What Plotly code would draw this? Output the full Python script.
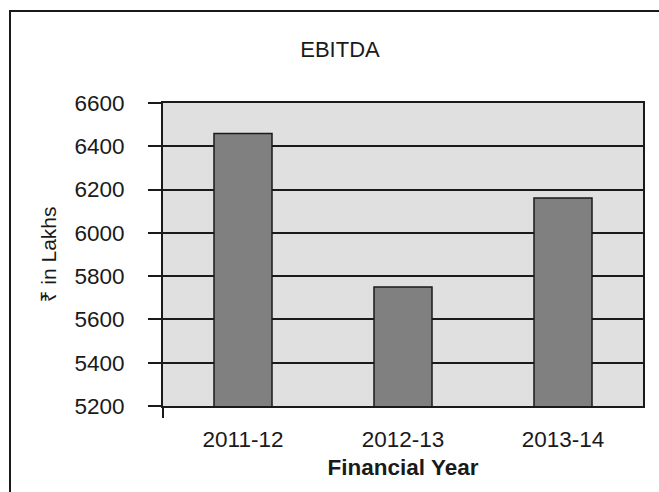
import plotly.graph_objects as go

categories = ["2011-12", "2012-13", "2013-14"]
ebitda = [6459, 5750, 6161]
y_ticks = [5200, 5400, 5600, 5800, 6000, 6200, 6400, 6600]

W, H = 659, 492
L, R, T, B = 163, 16, 103, 86
pw, ph = W - L - R, H - T - B

fig = go.Figure(go.Bar(
    x=categories, y=ebitda,
    marker=dict(color="#808080", line=dict(color="#1a1a1a", width=1.5)),
    width=0.3625,
))

font = "Liberation Sans, Arial, Noto Sans, DejaVu Sans, sans-serif"

fig.update_layout(
    width=W, height=H,
    margin=dict(l=L, r=R, t=T, b=B, autoexpand=False),
    paper_bgcolor="white",
    plot_bgcolor="#e0e0e0",
    showlegend=False,
    font=dict(family=font, color="#1a1a1a", size=22),
    title=dict(text="EBITDA", x=(340) / W, xanchor="center",
               y=1 - 49 / H, yanchor="middle",
               font=dict(size=22, color="#1a1a1a")),
    xaxis=dict(
        type="category", automargin=False,
        showgrid=False, showline=True, linecolor="#1a1a1a", linewidth=2,
        mirror=True, ticks="outside", ticklen=12, tickcolor="rgba(0,0,0,0)",
        tickfont=dict(size=22.5),
        title=dict(text="<b>Financial Year</b>", font=dict(size=22.5), standoff=8),
    ),
    yaxis=dict(
        range=[5200, 6600], tickvals=y_ticks, automargin=False,
        showgrid=True, gridcolor="#1a1a1a", gridwidth=1.5,
        showline=True, linecolor="#1a1a1a", linewidth=2, mirror=True,
        ticks="outside", ticklen=13, tickcolor="#1a1a1a", tickwidth=1.5,
        ticklabelstandoff=19, tickfont=dict(size=22.5),
        title=dict(text="₹ in Lakhs", font=dict(size=21), standoff=12),
        zeroline=False,
    ),
    shapes=[
        dict(type="line", xref="paper", yref="paper", x0=0, x1=0,
             ysizemode="pixel", yanchor=0, y0=0, y1=-12,
             line=dict(color="#1a1a1a", width=2)),
        dict(type="rect", xref="paper", yref="paper",
             x0=(10 - L) / pw, x1=(W + 10 - L) / pw,
             y0=(H - B - (H + 10)) / ph, y1=(H - B - 11) / ph,
             line=dict(color="#1a1a1a", width=2), fillcolor="rgba(0,0,0,0)",
             layer="above"),
    ],
)

fig.write_html("out.html")
